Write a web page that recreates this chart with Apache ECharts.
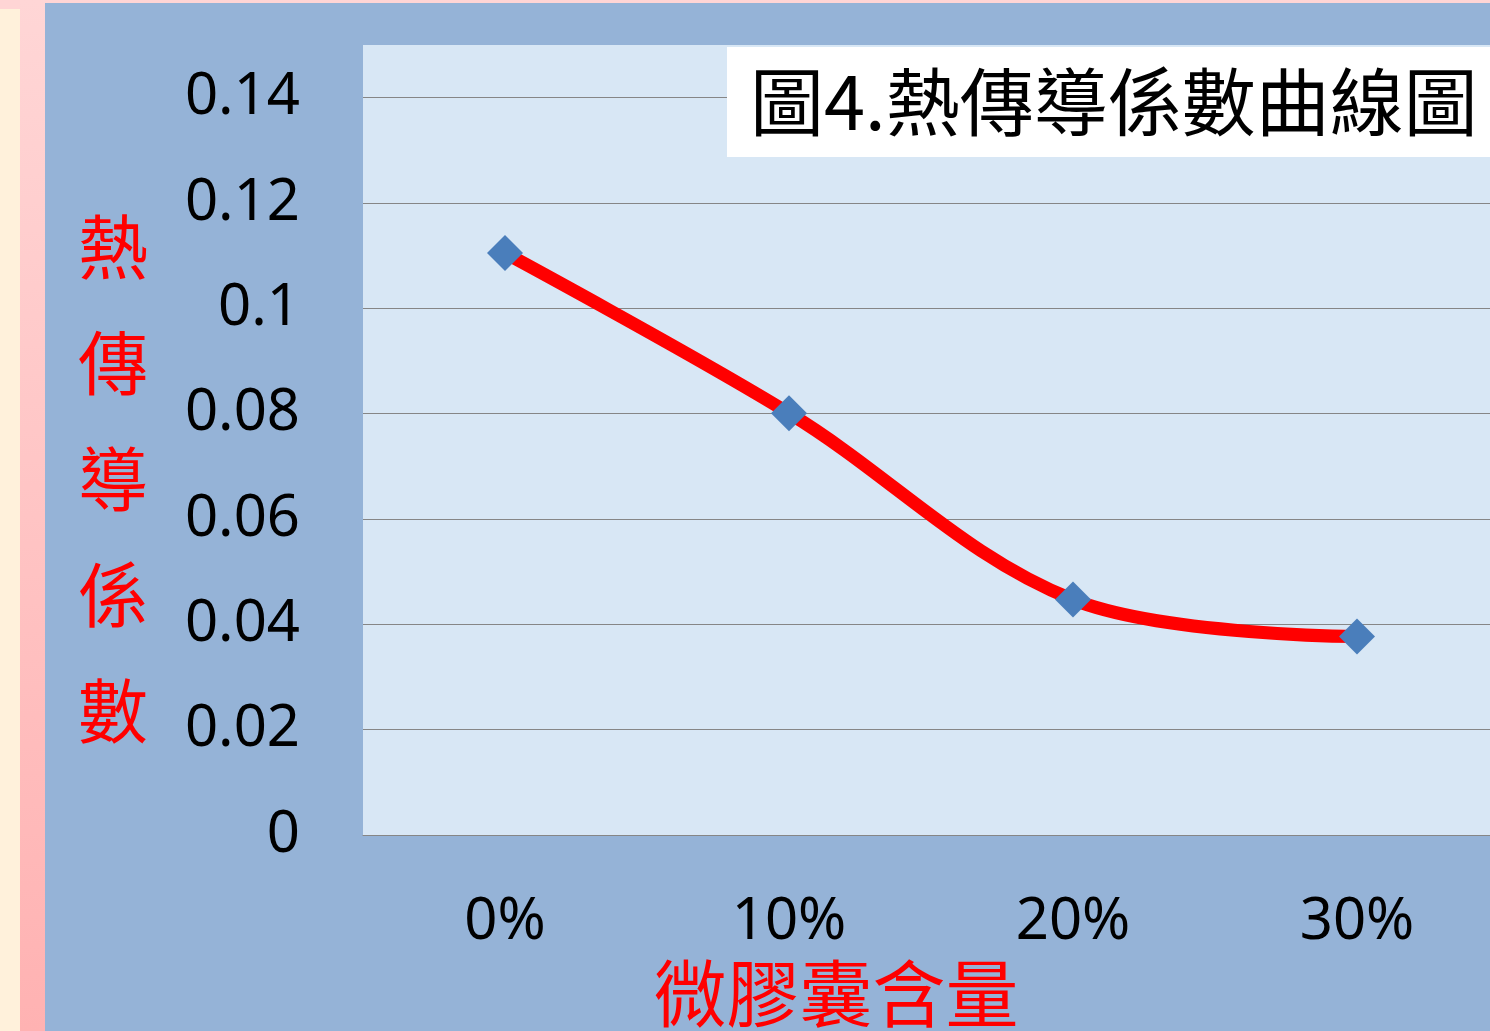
<!DOCTYPE html>
<html>
<head>
<meta charset="utf-8">
<script src="https://cdn.jsdelivr.net/npm/echarts@6/dist/echarts.min.js"></script>
<style>
  html, body { margin: 0; padding: 0; width: 1490px; height: 1031px; overflow: hidden; background: #FFD5D5; }
  #cream { position: absolute; left: 0; top: 9px; width: 20px; height: 1022px; background: #FFF1DB; }
  #pink { position: absolute; left: 20px; top: 0; width: 25px; height: 1031px; background: linear-gradient(#FFD6D6, #FFB2B2); }
  #chart { position: absolute; left: 45px; top: 3px; width: 1470px; height: 1028px; }
</style>
</head>
<body>
<div id="cream"></div>
<div id="pink"></div>
<div id="chart"></div>
<script>
const categories = ['0%', '10%', '20%', '30%'];
const conductivity = [0.1105, 0.0801, 0.0447, 0.0377];
const chartTitle = '圖4.熱傳導係數曲線圖';
const yAxisTitle = '熱傳導係數';
const xAxisTitle = '微膠囊含量';

const chart = echarts.init(document.getElementById('chart'), null, { renderer: 'canvas' });
const latin = '"Noto Sans", "Open Sans", sans-serif';
const cjk = '"Noto Sans CJK TC", "Noto Sans CJK SC", sans-serif';

chart.setOption({
  backgroundColor: '#95B3D7',
  animation: false,
  title: [{
    text: chartTitle,
    left: 682,
    top: 44,
    backgroundColor: '#FFFFFF',
    padding: [18, 80, 18, 23],
    textStyle: { fontFamily: cjk, fontSize: 74, fontWeight: 'normal', color: '#000000', lineHeight: 74 }
  }, {
    text: yAxisTitle.split('').join('\n'),
    left: 33,
    top: 186,
    padding: 0,
    textStyle: { fontFamily: cjk, fontSize: 70, fontWeight: 'normal', color: '#FF0000', lineHeight: 116 }
  }],
  grid: {
    left: 318,
    top: 42,
    width: 1136,
    height: 790,
    outerBoundsMode: 'none',
    containLabel: false,
    show: true,
    backgroundColor: '#D8E7F5',
    borderWidth: 0
  },
  xAxis: {
    type: 'category',
    data: categories,
    boundaryGap: true,
    axisLine: { show: true, lineStyle: { color: '#868686', width: 1 } },
    axisTick: { show: false },
    axisLabel: { margin: 58, fontFamily: latin, fontSize: 58, color: '#000000' },
    name: xAxisTitle,
    nameLocation: 'middle',
    nameGap: 122,
    nameTextStyle: { fontFamily: cjk, fontSize: 73, color: '#FF0000', padding: [0, 190, 0, 0] }
  },
  yAxis: {
    type: 'value',
    min: 0,
    max: 0.15,
    interval: 0.02,
    axisLine: { show: false },
    axisTick: { show: false },
    axisLabel: { margin: 63, fontFamily: latin, fontSize: 58, color: '#000000', showMaxLabel: false },
    splitLine: { show: true, showMaxLine: false, lineStyle: { color: '#868686', width: 1 } }
  },
  series: [{
    type: 'line',
    data: conductivity,
    smooth: 0.35,
    lineStyle: { color: '#FF0000', width: 13 },
    symbol: 'diamond',
    symbolSize: 36,
    itemStyle: { color: '#4A7EBB' },
    z: 3
  }]
});
</script>
</body>
</html>
